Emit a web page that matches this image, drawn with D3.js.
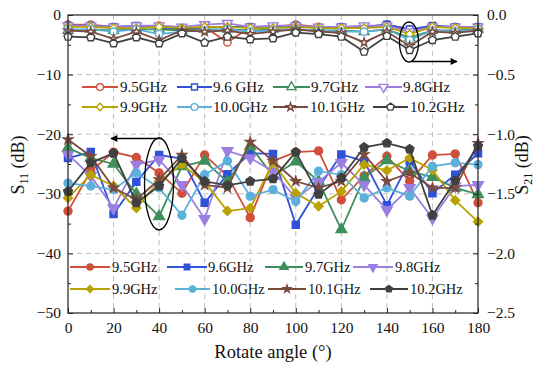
<!DOCTYPE html>
<html><head><meta charset="utf-8">
<script src="https://cdn.jsdelivr.net/npm/d3@7"></script>
<style>body{margin:0;background:#fff}svg{display:block}text{font-family:"Liberation Serif","Times New Roman",serif}</style>
</head><body><svg id="c" width="550" height="370"></svg>
<script>
const angles = [0,10,20,30,40,50,60,70,80,90,100,110,120,130,140,150,160,170,180];
const freqLabels = ["9.5GHz","9.6 GHz","9.7GHz","9.8GHz","9.9GHz","10.0GHz","10.1GHz","10.2GHz"];
const freqLabels11 = ["9.5GHz","9.6GHz","9.7GHz","9.8GHz","9.9GHz","10.0GHz","10.1GHz","10.2GHz"];
const xTicks = [0,20,40,60,80,100,120,140,160,180];
const yLeftTicks = [0,-10,-20,-30,-40,-50];
const yRightTicks = [0,-0.5,-1,-1.5,-2,-2.5];

// S11 (dB) - filled markers
const s11_95  = [-32.9,-26.2,-23.0,-23.9,-26.5,-29.9,-23.5,-27.0,-34.0,-24.5,-23.0,-22.8,-31.0,-27.0,-23.7,-27.9,-23.5,-23.3,-31.5];
const s11_96  = [-24.0,-23.0,-33.4,-28.0,-23.5,-24.1,-31.5,-26.7,-23.2,-23.3,-35.2,-29.0,-23.4,-24.5,-31.9,-24.5,-29.9,-26.8,-23.2];
const s11_97  = [-22.3,-24.0,-25.0,-30.0,-33.8,-25.4,-24.5,-28.0,-22.0,-27.0,-24.6,-27.9,-36.0,-27.3,-24.4,-26.2,-27.2,-29.0,-30.1];
const s11_98  = [-23.4,-27.0,-32.4,-25.1,-24.3,-28.5,-34.2,-22.8,-24.0,-26.2,-30.7,-28.0,-24.8,-28.5,-32.7,-29.0,-34.1,-28.7,-28.5];
const s11_99  = [-30.7,-26.8,-28.7,-32.4,-27.9,-25.1,-28.0,-32.9,-32.4,-24.8,-29.9,-32.1,-29.6,-25.1,-26.1,-24.0,-26.0,-31.1,-34.7];
const s11_100 = [-28.2,-28.7,-29.3,-26.5,-29.0,-33.6,-26.8,-24.5,-30.4,-29.3,-31.3,-26.2,-26.8,-30.7,-29.0,-30.4,-25.4,-24.8,-25.1];
const s11_101 = [-20.9,-23.7,-29.0,-31.0,-27.6,-23.5,-28.5,-29.0,-21.3,-24.5,-27.9,-29.0,-27.9,-23.4,-27.9,-26.5,-29.0,-29.0,-21.5];
const s11_102 = [-29.6,-24.8,-23.2,-31.5,-28.7,-24.1,-27.9,-28.6,-27.9,-27.5,-23.0,-30.1,-27.3,-22.2,-21.5,-22.5,-33.6,-27.8,-22.0];

// S21 (dB) - open markers
const s21_95  = [-0.08,-0.08,-0.10,-0.10,-0.09,-0.13,-0.10,-0.23,-0.10,-0.10,-0.08,-0.10,-0.10,-0.10,-0.08,-0.12,-0.10,-0.10,-0.10];
const s21_96  = [-0.09,-0.09,-0.10,-0.09,-0.11,-0.12,-0.10,-0.10,-0.10,-0.10,-0.09,-0.11,-0.10,-0.10,-0.08,-0.12,-0.09,-0.10,-0.10];
const s21_97  = [-0.13,-0.12,-0.13,-0.12,-0.12,-0.13,-0.12,-0.12,-0.13,-0.12,-0.12,-0.13,-0.13,-0.14,-0.12,-0.19,-0.13,-0.13,-0.12];
const s21_98  = [-0.09,-0.09,-0.10,-0.09,-0.09,-0.10,-0.08,-0.07,-0.10,-0.09,-0.09,-0.10,-0.10,-0.09,-0.09,-0.14,-0.10,-0.10,-0.10];
const s21_99  = [-0.10,-0.10,-0.11,-0.11,-0.10,-0.11,-0.10,-0.10,-0.11,-0.11,-0.10,-0.11,-0.11,-0.11,-0.10,-0.16,-0.10,-0.11,-0.11];
const s21_100 = [-0.12,-0.12,-0.14,-0.12,-0.16,-0.14,-0.13,-0.12,-0.14,-0.13,-0.12,-0.13,-0.14,-0.14,-0.12,-0.21,-0.13,-0.14,-0.12];
const s21_101 = [-0.13,-0.14,-0.20,-0.14,-0.21,-0.13,-0.14,-0.13,-0.16,-0.14,-0.12,-0.14,-0.15,-0.23,-0.14,-0.26,-0.14,-0.15,-0.13];
const s21_102 = [-0.182,-0.187,-0.238,-0.187,-0.238,-0.154,-0.232,-0.182,-0.204,-0.196,-0.148,-0.16,-0.182,-0.308,-0.176,-0.294,-0.21,-0.182,-0.154];

const s11All = [s11_95,s11_96,s11_97,s11_98,s11_99,s11_100,s11_101,s11_102];
const s21All = [s21_95,s21_96,s21_97,s21_98,s21_99,s21_100,s21_101,s21_102];

const colors = ["#cf4f3a","#2f52d8","#3f8f5c","#9b7fe0","#b9a200","#5cb0da","#7a4a3f","#404040"];
const symbols = ["circle","square","triangle","triangleDown","diamond","circle","star","pentagon"];

const svg = d3.select("#c");
const L=68,R=478,T=15,B=313;
const x = d3.scaleLinear().domain([0,180]).range([L,R]);
const yL = d3.scaleLinear().domain([-50,0]).range([B,T]);
const yR = d3.scaleLinear().domain([-2.5,0]).range([B,T]);

const pentagon = {draw(ctx,size){const r=Math.sqrt(size/2.378);for(let k=0;k<5;k++){const a=-Math.PI/2+k*2*Math.PI/5;const px=r*Math.cos(a),py=r*Math.sin(a);k?ctx.lineTo(px,py):ctx.moveTo(px,py);}ctx.closePath();}};
function symPath(name,size){
  const t={circle:d3.symbolCircle,square:d3.symbolSquare,triangle:d3.symbolTriangle,triangleDown:d3.symbolTriangle,diamond:d3.symbolSquare,star:d3.symbolStar,pentagon:pentagon}[name];
  const s = name==="star"?size*0.55:(name==="diamond"?size*0.8:size);
  return d3.symbol().type(t).size(s)();
}
function symRot(name){return name==="triangleDown"?180:(name==="diamond"?45:0);}

// grid
const grid = svg.append("g").attr("stroke","#bdbdbd").attr("stroke-dasharray","5,4").attr("stroke-width",1);
[20,40,60,80,100,120,140,160].forEach(v=>grid.append("line").attr("x1",x(v)).attr("x2",x(v)).attr("y1",T).attr("y2",B));
[-10,-20,-30,-40].forEach(v=>grid.append("line").attr("x1",L).attr("x2",R).attr("y1",yL(v)).attr("y2",yL(v)));

function drawSeries(data, yScale, filled, i){
  const g = svg.append("g");
  const line = d3.line().x((d,j)=>x(angles[j])).y(d=>yScale(d));
  g.append("path").attr("d",line(data)).attr("fill","none").attr("stroke",colors[i]).attr("stroke-width",1.8);
  g.selectAll("path.m").data(data).enter().append("path").attr("class","m")
    .attr("d",symPath(symbols[i],filled?50:42))
    .attr("transform",(d,j)=>`translate(${x(angles[j])},${yScale(d)}) rotate(${symRot(symbols[i])})`)
    .attr("fill",filled?colors[i]:"#fff").attr("stroke",colors[i]).attr("stroke-width",1.4);
}
s21All.forEach((d,i)=>drawSeries(d,yR,false,i));
s11All.forEach((d,i)=>drawSeries(d,yL,true,i));

// legends
function legend(items, labels, filled, fs){
  items.forEach((it,i)=>{
    const g=svg.append("g");
    g.append("line").attr("x1",it[0]).attr("x2",it[1]).attr("y1",it[3]).attr("y2",it[3]).attr("stroke",colors[i]).attr("stroke-width",1.8);
    g.append("path").attr("d",symPath(symbols[i],filled?30:36))
      .attr("transform",`translate(${(it[0]+it[1])/2},${it[3]}) rotate(${symRot(symbols[i])})`)
      .attr("fill",filled?colors[i]:"#fff").attr("stroke",colors[i]).attr("stroke-width",1.4);
    g.append("text").attr("x",it[2]).attr("y",it[3]+5).attr("font-size",fs).attr("fill","#111").text(labels[i]);
  });
}
const leg1 = [[82,118,120,87],[177,212,213,87],[273,310,311,87],[365,402,403,87],[82,118,120,107],[177,212,213,107],[273,308,310,107],[373,408,410,107]];
const leg2 = [[70,110,112,267],[167,207,208,267],[265,303,305,267],[353,393,395,267],[70,110,112,289],[175,210,212,289],[268,306,308,289],[370,408,410,289]];
legend(leg1, freqLabels, false, 15);
legend(leg2, freqLabels11, true, 14.5);

// annotations
svg.append("defs").html('<marker id="ah" viewBox="0 0 10 10" refX="9" refY="5" markerWidth="9" markerHeight="7" orient="auto-start-reverse" markerUnits="userSpaceOnUse"><path d="M0,0 L10,5 L0,10 z" fill="#000"/></marker>');
svg.append("ellipse").attr("cx",409).attr("cy",42).attr("rx",9.5).attr("ry",20).attr("fill","none").attr("stroke","#000").attr("stroke-width",1.3);
svg.append("line").attr("x1",411).attr("x2",457).attr("y1",61.5).attr("y2",61.5).attr("stroke","#000").attr("stroke-width",1.3).attr("marker-end","url(#ah)");
svg.append("ellipse").attr("cx",159).attr("cy",184).attr("rx",14.5).attr("ry",46).attr("fill","none").attr("stroke","#000").attr("stroke-width",1.3);
svg.append("line").attr("x1",162).attr("x2",111).attr("y1",138.5).attr("y2",138.5).attr("stroke","#000").attr("stroke-width",1.3).attr("marker-end","url(#ah)");

// axes
const fmtL = d3.format("d"), fmtR = d3.format(".1f");
const ax = svg.append("g");
ax.append("g").attr("transform",`translate(0,${B})`).call(d3.axisBottom(x).tickValues(xTicks).tickSize(-5).tickPadding(9));
ax.append("g").attr("transform",`translate(0,${B})`).call(d3.axisBottom(x).tickValues(d3.range(10,180,20)).tickSize(-3).tickFormat(""));
ax.append("g").attr("transform",`translate(${L},0)`).call(d3.axisLeft(yL).tickValues(yLeftTicks).tickSize(-5).tickPadding(7).tickFormat(fmtL));
ax.append("g").attr("transform",`translate(${L},0)`).call(d3.axisLeft(yL).tickValues(d3.range(-45,0,10)).tickSize(-3).tickFormat(""));
ax.append("g").attr("transform",`translate(${R},0)`).call(d3.axisRight(yR).tickValues(yRightTicks).tickSize(-5).tickPadding(9).tickFormat(fmtR));
ax.append("g").attr("transform",`translate(${R},0)`).call(d3.axisRight(yR).tickValues(d3.range(-2.25,0,0.5)).tickSize(-3).tickFormat(""));
ax.selectAll("text").attr("font-family","Liberation Serif").attr("font-size",15.5).attr("fill","#111");
ax.selectAll(".domain").remove();
ax.selectAll(".tick line").attr("stroke","#222").attr("stroke-width",1);
svg.append("rect").attr("x",L).attr("y",T).attr("width",R-L).attr("height",B-T).attr("fill","none").attr("stroke","#222").attr("stroke-width",1.2);

// titles
svg.append("text").attr("x",(L+R)/2).attr("y",358).attr("text-anchor","middle").attr("font-size",18.5).attr("fill","#111").text("Rotate angle (°)");
const tl = svg.append("text").attr("transform","translate(24,165) rotate(-90)").attr("text-anchor","middle").attr("font-size",18).attr("fill","#111");
tl.append("tspan").text("S");
tl.append("tspan").attr("font-size",12).attr("dy",4).text("11");
tl.append("tspan").attr("dy",-4).text(" (dB)");
const tr = svg.append("text").attr("transform","translate(528,165) rotate(-90)").attr("text-anchor","middle").attr("font-size",18).attr("fill","#111");
tr.append("tspan").text("S");
tr.append("tspan").attr("font-size",12).attr("dy",4).text("21");
tr.append("tspan").attr("dy",-4).text(" (dB)");
</script></body></html>
